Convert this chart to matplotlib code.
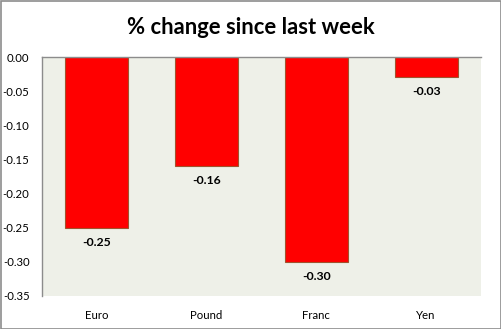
import matplotlib.pyplot as plt
from matplotlib.patches import Rectangle

categories = ["Euro", "Pound", "Franc", "Yen"]
changes = [-0.25, -0.16, -0.30, -0.03]
yticks = [0.00, -0.05, -0.10, -0.15, -0.20, -0.25, -0.30, -0.35]

plt.rcParams['font.family'] = ['Lato', 'DejaVu Sans']

W, H = 502, 329
fig = plt.figure(figsize=(W / 100, H / 100), dpi=100)
fig.patch.set_facecolor('white')
fig.patches.append(Rectangle((0.5 / W, 0.5 / H), 1 - 1.5 / W, 1 - 1.5 / H,
                             transform=fig.transFigure, fill=False,
                             edgecolor='#8c8c8c', linewidth=1.2))

left, right, top, bottom = 42, 481, 57, 296
ax = fig.add_axes([left / W, 1 - bottom / H, (right - left) / W, (bottom - top) / H])
ax.set_facecolor('#eef0e8')

x = range(len(categories))
ax.bar(x, changes, width=0.575, color='#ff0000', edgecolor='#a0522d', linewidth=0.8)

for xi, v in zip(x, changes):
    ax.text(xi, v - 0.013, f"{v:.2f}", ha='center', va='top',
            fontsize=8.8, fontweight='bold', color='black')

ax.set_xlim(-0.5, len(categories) - 0.5)
ax.set_ylim(-0.35, 0.0)
ax.set_yticks(yticks)
ax.set_yticklabels([f"{t:.2f}" for t in yticks], fontsize=8.2)
ax.set_xticks(list(x))
ax.set_xticklabels(categories, fontsize=8.2)
ax.tick_params(axis='both', length=0)
ax.tick_params(axis='y', pad=9)
ax.tick_params(axis='x', pad=10)

for s in ['right', 'bottom']:
    ax.spines[s].set_visible(False)
for s in ['left', 'top']:
    ax.spines[s].set_color('#8c8c8c')
    ax.spines[s].set_linewidth(1.0)

fig.text(251 / W, 1 - 27 / H, "% change since last week", ha='center', va='center',
         fontsize=15.8, fontweight='bold')

fig.savefig('out.png', dpi=100)
